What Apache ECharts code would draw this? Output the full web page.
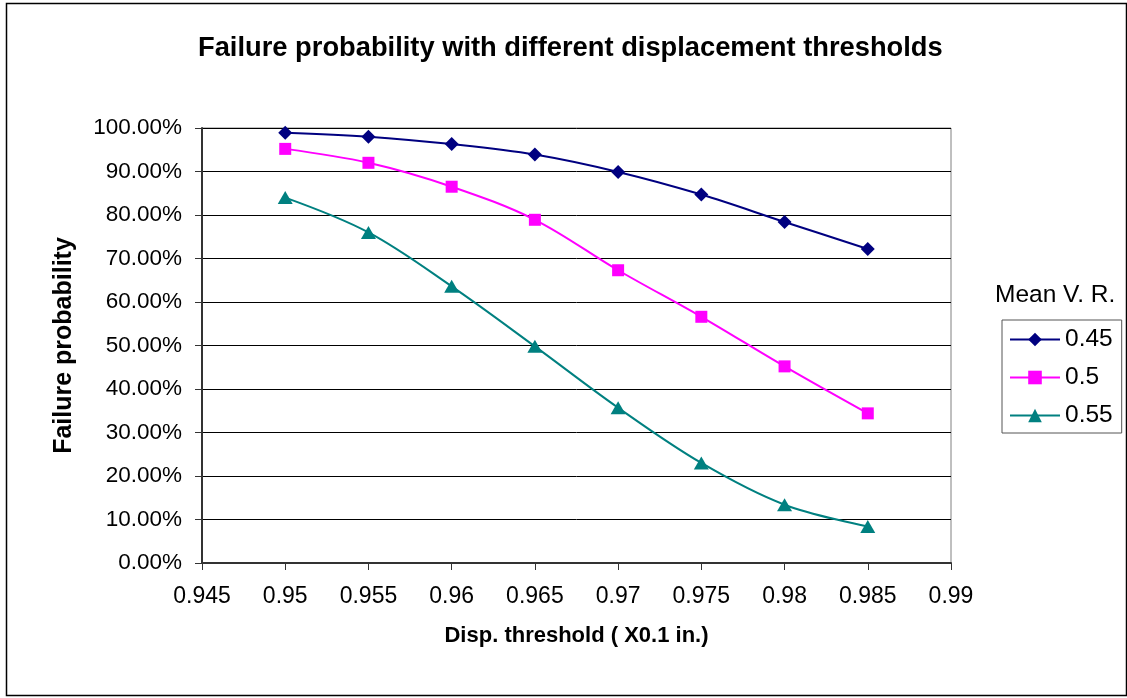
<!DOCTYPE html>
<html>
<head>
<meta charset="utf-8">
<script src="https://cdn.jsdelivr.net/npm/echarts@6/dist/echarts.min.js"></script>
<style>
html,body{margin:0;padding:0;background:#fff;}
#c{width:1127px;height:698px;}
</style>
</head>
<body>
<div id="c"></div>
<script>
const thresholds = [0.95, 0.955, 0.96, 0.965, 0.97, 0.975, 0.98, 0.985];
const seriesNames = ['0.45', '0.5', '0.55'];
const vr045 = [0.989, 0.980, 0.963, 0.939, 0.899, 0.847, 0.784, 0.722];
const vr050 = [0.952, 0.920, 0.865, 0.789, 0.673, 0.566, 0.452, 0.344];
const vr055 = [0.840, 0.760, 0.636, 0.498, 0.357, 0.230, 0.134, 0.084];
const xMin = 0.945, xMax = 0.99, xStep = 0.005;
const titleText = 'Failure probability with different displacement thresholds';
const xName = 'Disp. threshold ( X0.1 in.)';
const yName = 'Failure probability';
const legendTitle = 'Mean V. R.';

const FONT = '"Liberation Sans", Arial, sans-serif';
const pair = (ys) => thresholds.map((x, i) => [x, ys[i]]);
const colors = ['#000080', '#FF00FF', '#008080'];
const symbols = ['diamond', 'rect', 'triangle'];
const sizes = [14, 12, [15, 13]];
const data = [vr045, vr050, vr055];

const chart = echarts.init(document.getElementById('c'), null, {renderer: 'canvas'});
chart.setOption({
  animation: false,
  backgroundColor: '#fff',
  textStyle: {fontFamily: FONT},
  title: {
    text: titleText,
    left: 198, top: 35,
    padding: 0,
    textStyle: {fontFamily: FONT, fontSize: 27.3, fontWeight: 'bold', color: '#000'}
  },
  grid: {
    left: 202, right: 176, top: 128, bottom: 135,
    show: true, borderColor: '#808080', borderWidth: 1, backgroundColor: '#fff'
  },
  xAxis: {
    type: 'value', min: xMin, max: xMax, interval: xStep,
    name: xName, nameLocation: 'middle', nameGap: 62,
    nameTextStyle: {fontFamily: FONT, fontSize: 22, fontWeight: 'bold', color: '#000'},
    axisLine: {show: true, onZero: false, lineStyle: {color: '#333', width: 2}},
    axisTick: {show: true, length: 7, lineStyle: {color: '#333', width: 1}},
    axisLabel: {
      margin: 22, fontFamily: FONT, fontSize: 23, color: '#000',
      formatter: v => String(+v.toFixed(3))
    },
    splitLine: {show: false}
  },
  yAxis: {
    type: 'value', min: 0, max: 1, interval: 0.1,
    name: yName, nameLocation: 'middle', nameGap: 125, nameRotate: 90,
    nameTextStyle: {fontFamily: FONT, fontSize: 25, fontWeight: 'bold', color: '#000'},
    axisLine: {show: true, lineStyle: {color: '#333', width: 2}},
    axisTick: {show: true, length: 7, lineStyle: {color: '#333', width: 1}},
    axisLabel: {
      margin: 20, fontFamily: FONT, fontSize: 22.5, color: '#000',
      formatter: v => (v * 100).toFixed(2) + '%'
    },
    splitLine: {show: true, lineStyle: {color: '#000', width: 1}}
  },
  legend: {
    orient: 'vertical',
    left: 1002, top: 320,
    padding: [7, 9, 5, 7],
    itemWidth: 50, itemHeight: 17, itemGap: 13,
    borderColor: '#555', borderWidth: 1,
    textStyle: {fontFamily: FONT, fontSize: 24.5, color: '#000', lineHeight: 24},
    data: seriesNames
  },
  graphic: [
    {type: 'rect', left: 4, top: 1, shape: {width: 1120, height: 692},
     style: {fill: 'none', stroke: '#000', lineWidth: 1.5}, silent: true, z: -1},
    {type: 'text', left: 995, top: 283,
     style: {text: legendTitle, font: '24.5px ' + FONT, fill: '#000'}}
  ],
  series: seriesNames.map((n, i) => ({
    name: n, type: 'line', smooth: 0.35,
    data: pair(data[i]),
    symbol: symbols[i], symbolSize: sizes[i],
    showAllSymbol: true,
    lineStyle: {color: colors[i], width: 2},
    itemStyle: {color: colors[i]},
    z: 3 - i
  }))
});
</script>
</body>
</html>
